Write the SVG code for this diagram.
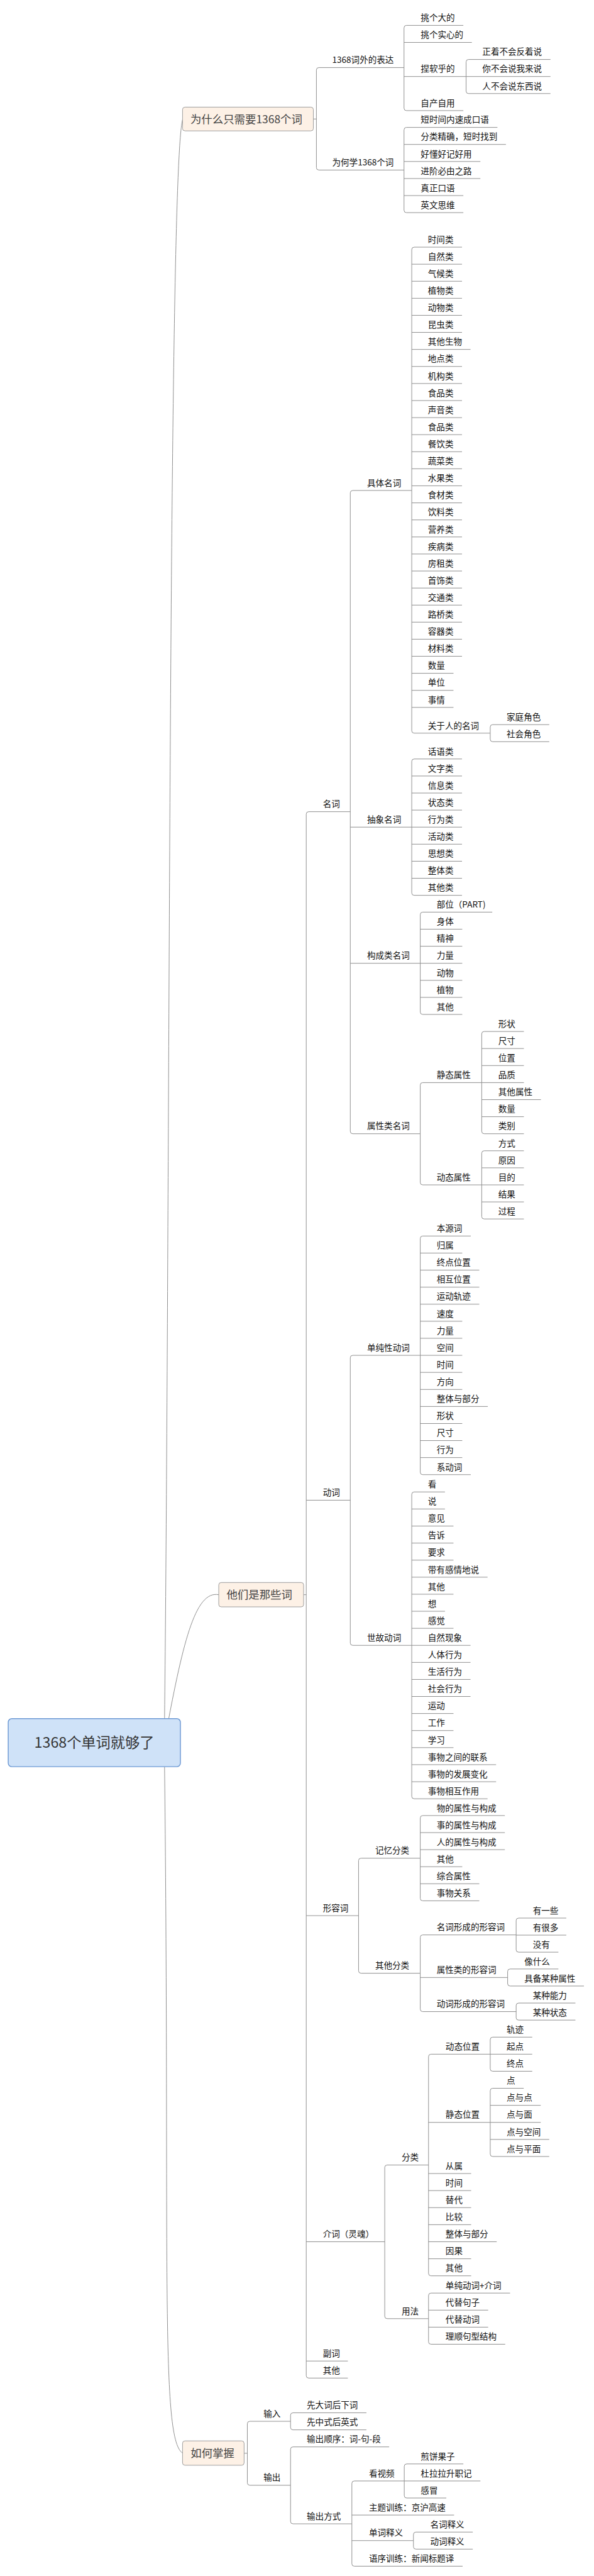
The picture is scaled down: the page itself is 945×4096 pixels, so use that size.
<svg xmlns="http://www.w3.org/2000/svg" width="945" height="4096" viewBox="0 0 945 4096">
<style>
.t{font-family:"Noto Sans CJK SC","Noto Sans",sans-serif;font-size:14px;fill:#111}
.bt{font-family:"Noto Sans CJK SC","Noto Sans",sans-serif;font-size:18px;fill:#444}
.rt{font-family:"Noto Sans CJK SC","Noto Sans",sans-serif;font-size:24px;fill:#333}
.c{fill:none;stroke:#8c8c8c;stroke-width:1}
.box{fill:#fdf1e6;stroke:#9a9a9a;stroke-width:1}
.root{fill:#cfe2f8;stroke:#6e9ad4;stroke-width:1.5}
</style>
<rect width="945" height="4096" fill="#fff"/>
<g transform="scale(0.968)">
<g id="connectors">
<path class="c" d="M270 2862C280 2000 276 290 300 196.5"/>
<path class="c" d="M270 2862C300 2700 320 2612 359.5 2619.5"/>
<path class="c" d="M270 2862C280 3700 262 4005 300 4029.5"/>
<!-- top -->
<path class="c" d="M515 195.5H520M664 111H524Q520 111 520 115V275.3Q520 279.3 524 279.3H664"/>
<path class="c" d="M761.5 41.7H668Q664 41.7 664 45.7V177.7Q664 181.7 668 181.7H761.5M664 69.7H775.5M664 125.7H766"/>
<path class="c" d="M904.7 97.7H770Q766 97.7 766 101.7V149.7Q766 153.7 770 153.7H904.7M766 125.7H904.7"/>
<path class="c" d="M817.5 209.3H668Q664 209.3 664 213.3V345.3Q664 349.3 668 349.3H761.5M664 237.3H831.5M664 265.3H789.5M664 293.3H789.5M664 321.3H761.5"/>
<!-- main level 2 -->
<path class="c" d="M499 2619.5H503.3M575.7 1333.3H507.3Q503.3 1333.3 503.3 1337.3V3902.3Q503.3 3906.3 507.3 3906.3H571.7M503.3 2464.3H575.7M503.3 3146.7H589.3M503.3 3682.3H632.3M503.3 3878.3H571.7"/>
<!-- nouns -->
<path class="c" d="M676.7 805.7H579.7Q575.7 805.7 575.7 809.7V1858.3Q575.7 1862.3 579.7 1862.3H690.7M575.7 1358.7H676.7M575.7 1582.3H690.7"/>
<path class="c" d="M759.3 406H680.7Q676.7 406 676.7 410V1200.3Q676.7 1204.3 680.7 1204.3H805.7M676.7 434H759.3M676.7 462H759.3M676.7 490H759.3M676.7 518H759.3M676.7 546H759.3M676.7 574H773.3M676.7 602H759.3M676.7 630H759.3M676.7 658H759.3M676.7 686H759.3M676.7 714H759.3M676.7 742H759.3M676.7 770H759.3M676.7 798H759.3M676.7 826H759.3M676.7 854H759.3M676.7 882H759.3M676.7 910H759.3M676.7 938H759.3M676.7 966H759.3M676.7 994H759.3M676.7 1022H759.3M676.7 1050H759.3M676.7 1078H759.3M676.7 1106H745.3M676.7 1134H745.3M676.7 1162H745.3"/>
<path class="c" d="M902.7 1190.3H809.7Q805.7 1190.3 805.7 1194.3V1214.3Q805.7 1218.3 809.7 1218.3H902.7"/>
<path class="c" d="M759.3 1246.7H680.7Q676.7 1246.7 676.7 1250.7V1466.7Q676.7 1470.7 680.7 1470.7H759.3M676.7 1274.7H759.3M676.7 1302.7H759.3M676.7 1330.7H759.3M676.7 1358.7H759.3M676.7 1386.7H759.3M676.7 1414.7H759.3M676.7 1442.7H759.3"/>
<path class="c" d="M809 1498.3H694.7Q690.7 1498.3 690.7 1502.3V1662.3Q690.7 1666.3 694.7 1666.3H759.7M690.7 1526.3H759.7M690.7 1554.3H759.7M690.7 1582.3H759.7M690.7 1610.3H759.7M690.7 1638.3H759.7"/>
<path class="c" d="M791.7 1778.3H694.7Q690.7 1778.3 690.7 1782.3V1942.3Q690.7 1946.3 694.7 1946.3H791.7"/>
<path class="c" d="M861 1694.3H795.7Q791.7 1694.3 791.7 1698.3V1858.3Q791.7 1862.3 795.7 1862.3H861M791.7 1722.3H861M791.7 1750.3H861M791.7 1778.3H861M791.7 1806.3H889M791.7 1834.3H861"/>
<path class="c" d="M861 1890.3H795.7Q791.7 1890.3 791.7 1894.3V1998.3Q791.7 2002.3 795.7 2002.3H861M791.7 1918.3H861M791.7 1946.3H861M791.7 1974.3H861"/>
<!-- verbs -->
<path class="c" d="M690.7 2226.3H579.7Q575.7 2226.3 575.7 2230.3V2698.7Q575.7 2702.7 579.7 2702.7H676.7"/>
<path class="c" d="M773.7 2030.3H694.7Q690.7 2030.3 690.7 2034.3V2418.3Q690.7 2422.3 694.7 2422.3H773.7M690.7 2058.3H759.7M690.7 2086.3H787.7M690.7 2114.3H787.7M690.7 2142.3H787.7M690.7 2170.3H759.7M690.7 2198.3H759.7M690.7 2226.3H759.7M690.7 2254.3H759.7M690.7 2282.3H759.7M690.7 2310.3H801.7M690.7 2338.3H759.7M690.7 2366.3H759.7M690.7 2394.3H759.7"/>
<path class="c" d="M731.3 2450.7H680.7Q676.7 2450.7 676.7 2454.7V2950.7Q676.7 2954.7 680.7 2954.7H801.3M676.7 2478.7H731.3M676.7 2506.7H745.3M676.7 2534.7H745.3M676.7 2562.7H745.3M676.7 2590.7H801.3M676.7 2618.7H745.3M676.7 2646.7H731.3M676.7 2674.7H745.3M676.7 2702.7H773.3M676.7 2730.7H773.3M676.7 2758.7H773.3M676.7 2786.7H773.3M676.7 2814.7H745.3M676.7 2842.7H745.3M676.7 2870.7H745.3M676.7 2898.7H815.3M676.7 2926.7H815.3"/>
<!-- adjectives -->
<path class="c" d="M690.7 3052.3H593.3Q589.3 3052.3 589.3 3056.3V3237.3Q589.3 3241.3 593.3 3241.3H690.7"/>
<path class="c" d="M829.7 2982.3H694.7Q690.7 2982.3 690.7 2986.3V3118.3Q690.7 3122.3 694.7 3122.3H787.7M690.7 3010.3H829.7M690.7 3038.3H829.7M690.7 3066.3H759.7M690.7 3094.3H787.7"/>
<path class="c" d="M848.3 3178.3H694.7Q690.7 3178.3 690.7 3182.3V3300.3Q690.7 3304.3 694.7 3304.3H848.3M690.7 3248.3H834.3"/>
<path class="c" d="M930.7 3150.7H852.3Q848.3 3150.7 848.3 3154.7V3202.7Q848.3 3206.7 852.3 3206.7H917.7M848.3 3178.7H930.7"/>
<path class="c" d="M917.7 3234.3H838.3Q834.3 3234.3 834.3 3238.3V3258.3Q834.3 3262.3 838.3 3262.3H959.7"/>
<path class="c" d="M945.7 3290.3H852.3Q848.3 3290.3 848.3 3294.3V3314.3Q848.3 3318.3 852.3 3318.3H945.7"/>
<!-- prepositions -->
<path class="c" d="M704.3 3556.3H636.3Q632.3 3556.3 632.3 3560.3V3804.7Q632.3 3808.7 636.3 3808.7H704.3"/>
<path class="c" d="M805.7 3374.3H708.3Q704.3 3374.3 704.3 3378.3V3734.3Q704.3 3738.3 708.3 3738.3H774.3M704.3 3486.3H805.7M704.3 3570.3H774.3M704.3 3598.3H774.3M704.3 3626.3H774.3M704.3 3654.3H774.3M704.3 3682.3H816.3M704.3 3710.3H774.3"/>
<path class="c" d="M874.7 3346.3H809.7Q805.7 3346.3 805.7 3350.3V3398.3Q805.7 3402.3 809.7 3402.3H874.7M805.7 3374.3H874.7"/>
<path class="c" d="M860.7 3430.3H809.7Q805.7 3430.3 805.7 3434.3V3538.3Q805.7 3542.3 809.7 3542.3H902.7M805.7 3458.3H888.7M805.7 3486.3H888.7M805.7 3514.3H902.7"/>
<path class="c" d="M838.3 3766.7H708.3Q704.3 3766.7 704.3 3770.7V3846.7Q704.3 3850.7 708.3 3850.7H830.3M704.3 3794.7H802.3M704.3 3822.7H802.3"/>
<!-- how to master -->
<path class="c" d="M401.2 4029.8H406.5M477.5 3977.3H410.5Q406.5 3977.3 406.5 3981.3V4078.3Q406.5 4082.3 410.5 4082.3H477.5"/>
<path class="c" d="M602.2 3963.3H481.5Q477.5 3963.3 477.5 3967.3V3987.3Q477.5 3991.3 481.5 3991.3H602.2"/>
<path class="c" d="M639.6 4019.3H481.5Q477.5 4019.3 477.5 4023.3V4141.7Q477.5 4145.7 481.5 4145.7H578.3"/>
<path class="c" d="M664.4 4075.3H582.3Q578.3 4075.3 578.3 4079.3V4211.3Q578.3 4215.3 582.3 4215.3H760.3M578.3 4131.3H746.3M578.3 4173.3H679.5"/>
<path class="c" d="M761.5 4047.3H668.4Q664.4 4047.3 664.4 4051.3V4099.3Q664.4 4103.3 668.4 4103.3H733.5M664.4 4075.3H789.5"/>
<path class="c" d="M777 4159.3H683.5Q679.5 4159.3 679.5 4163.3V4183.3Q679.5 4187.3 683.5 4187.3H777"/>
</g>
<g id="root"><rect class="root" x="13.5" y="2823" width="283" height="79" rx="6"/><text class="rt" x="155" y="2871" text-anchor="middle">1368个单词就够了</text></g>
<g id="why"><rect class="box" x="300" y="176" width="215" height="39" rx="4"/><text class="bt" x="313" y="202">为什么只需要1368个词</text></g>
<g id="which"><rect class="box" x="359.5" y="2599.5" width="139.5" height="40" rx="4"/><text class="bt" x="372.4" y="2626">他们是那些词</text></g>
<g id="how"><rect class="box" x="300" y="4009.5" width="101.2" height="40" rx="4"/><text class="bt" x="313.3" y="4036">如何掌握</text></g>
<g id="w1"><text class="t" x="546" y="103.5">1368词外的表达</text></g>
<g id="w2"><text class="t" x="546" y="271.8">为何学1368个词</text></g>
<g id="w1a"><text class="t" x="691.5" y="34.2">挑个大的</text></g>
<g id="w1b"><text class="t" x="691.5" y="62.2">挑个实心的</text></g>
<g id="w1c"><text class="t" x="691.5" y="118.2">捏软乎的</text></g>
<g id="w1d"><text class="t" x="691.5" y="174.2">自产自用</text></g>
<g id="w1c1"><text class="t" x="792.7" y="90.2">正着不会反着说</text></g>
<g id="w1c2"><text class="t" x="792.7" y="118.2">你不会说我来说</text></g>
<g id="w1c3"><text class="t" x="792.7" y="146.2">人不会说东西说</text></g>
<g id="w2a"><text class="t" x="691.5" y="201.8">短时间内速成口语</text></g>
<g id="w2b"><text class="t" x="691.5" y="229.8">分类精确，短时找到</text></g>
<g id="w2c"><text class="t" x="691.5" y="257.8">好懂好记好用</text></g>
<g id="w2d"><text class="t" x="691.5" y="285.8">进阶必由之路</text></g>
<g id="w2e"><text class="t" x="691.5" y="313.8">真正口语</text></g>
<g id="w2f"><text class="t" x="691.5" y="341.8">英文思维</text></g>
<g id="noun"><text class="t" x="530.7" y="1325.8">名词</text></g>
<g id="verb"><text class="t" x="530.7" y="2456.8">动词</text></g>
<g id="adj"><text class="t" x="530.7" y="3139.2">形容词</text></g>
<g id="prep"><text class="t" x="530.7" y="3674.8">介词（灵魂）</text></g>
<g id="adv"><text class="t" x="530.7" y="3870.8">副词</text></g>
<g id="other"><text class="t" x="530.7" y="3898.8">其他</text></g>
<g id="n1"><text class="t" x="603.3" y="798.2">具体名词</text></g>
<g id="n2"><text class="t" x="603.3" y="1351.2">抽象名词</text></g>
<g id="n3"><text class="t" x="603.3" y="1574.8">构成类名词</text></g>
<g id="n4"><text class="t" x="603.3" y="1854.8">属性类名词</text></g>
<g id="n1-leaves">
<g id="n1-01"><text class="t" x="703.3" y="398.5">时间类</text></g>
<g id="n1-02"><text class="t" x="703.3" y="426.5">自然类</text></g>
<g id="n1-03"><text class="t" x="703.3" y="454.5">气候类</text></g>
<g id="n1-04"><text class="t" x="703.3" y="482.5">植物类</text></g>
<g id="n1-05"><text class="t" x="703.3" y="510.5">动物类</text></g>
<g id="n1-06"><text class="t" x="703.3" y="538.5">昆虫类</text></g>
<g id="n1-07"><text class="t" x="703.3" y="566.5">其他生物</text></g>
<g id="n1-08"><text class="t" x="703.3" y="594.5">地点类</text></g>
<g id="n1-09"><text class="t" x="703.3" y="622.5">机构类</text></g>
<g id="n1-10"><text class="t" x="703.3" y="650.5">食品类</text></g>
<g id="n1-11"><text class="t" x="703.3" y="678.5">声音类</text></g>
<g id="n1-12"><text class="t" x="703.3" y="706.5">食品类</text></g>
<g id="n1-13"><text class="t" x="703.3" y="734.5">餐饮类</text></g>
<g id="n1-14"><text class="t" x="703.3" y="762.5">蔬菜类</text></g>
<g id="n1-15"><text class="t" x="703.3" y="790.5">水果类</text></g>
<g id="n1-16"><text class="t" x="703.3" y="818.5">食材类</text></g>
<g id="n1-17"><text class="t" x="703.3" y="846.5">饮料类</text></g>
<g id="n1-18"><text class="t" x="703.3" y="874.5">营养类</text></g>
<g id="n1-19"><text class="t" x="703.3" y="902.5">疾病类</text></g>
<g id="n1-20"><text class="t" x="703.3" y="930.5">房租类</text></g>
<g id="n1-21"><text class="t" x="703.3" y="958.5">首饰类</text></g>
<g id="n1-22"><text class="t" x="703.3" y="986.5">交通类</text></g>
<g id="n1-23"><text class="t" x="703.3" y="1014.5">路桥类</text></g>
<g id="n1-24"><text class="t" x="703.3" y="1042.5">容器类</text></g>
<g id="n1-25"><text class="t" x="703.3" y="1070.5">材料类</text></g>
<g id="n1-26"><text class="t" x="703.3" y="1098.5">数量</text></g>
<g id="n1-27"><text class="t" x="703.3" y="1126.5">单位</text></g>
<g id="n1-28"><text class="t" x="703.3" y="1154.5">事情</text></g>
<g id="n1-29"><text class="t" x="703.3" y="1196.8">关于人的名词</text></g>
<g id="n1-29a"><text class="t" x="832.7" y="1182.8">家庭角色</text></g>
<g id="n1-29b"><text class="t" x="832.7" y="1210.8">社会角色</text></g>
</g>
<g id="n2-leaves">
<g id="n2-1"><text class="t" x="703.3" y="1239.2">话语类</text></g>
<g id="n2-2"><text class="t" x="703.3" y="1267.2">文字类</text></g>
<g id="n2-3"><text class="t" x="703.3" y="1295.2">信息类</text></g>
<g id="n2-4"><text class="t" x="703.3" y="1323.2">状态类</text></g>
<g id="n2-5"><text class="t" x="703.3" y="1351.2">行为类</text></g>
<g id="n2-6"><text class="t" x="703.3" y="1379.2">活动类</text></g>
<g id="n2-7"><text class="t" x="703.3" y="1407.2">思想类</text></g>
<g id="n2-8"><text class="t" x="703.3" y="1435.2">整体类</text></g>
<g id="n2-9"><text class="t" x="703.3" y="1463.2">其他类</text></g>
</g>
<g id="n3-leaves">
<g id="n3-1"><text class="t" x="717.7" y="1490.8">部位（PART)</text></g>
<g id="n3-2"><text class="t" x="717.7" y="1518.8">身体</text></g>
<g id="n3-3"><text class="t" x="717.7" y="1546.8">精神</text></g>
<g id="n3-4"><text class="t" x="717.7" y="1574.8">力量</text></g>
<g id="n3-5"><text class="t" x="717.7" y="1602.8">动物</text></g>
<g id="n3-6"><text class="t" x="717.7" y="1630.8">植物</text></g>
<g id="n3-7"><text class="t" x="717.7" y="1658.8">其他</text></g>
</g>
<g id="n4-s"><text class="t" x="717.7" y="1770.8">静态属性</text></g>
<g id="n4-d"><text class="t" x="717.7" y="1938.8">动态属性</text></g>
<g id="n4-leaves">
<g id="n4s1"><text class="t" x="819" y="1686.8">形状</text></g>
<g id="n4s2"><text class="t" x="819" y="1714.8">尺寸</text></g>
<g id="n4s3"><text class="t" x="819" y="1742.8">位置</text></g>
<g id="n4s4"><text class="t" x="819" y="1770.8">品质</text></g>
<g id="n4s5"><text class="t" x="819" y="1798.8">其他属性</text></g>
<g id="n4s6"><text class="t" x="819" y="1826.8">数量</text></g>
<g id="n4s7"><text class="t" x="819" y="1854.8">类别</text></g>
<g id="n4d1"><text class="t" x="819" y="1882.8">方式</text></g>
<g id="n4d2"><text class="t" x="819" y="1910.8">原因</text></g>
<g id="n4d3"><text class="t" x="819" y="1938.8">目的</text></g>
<g id="n4d4"><text class="t" x="819" y="1966.8">结果</text></g>
<g id="n4d5"><text class="t" x="819" y="1994.8">过程</text></g>
</g>
<g id="v1"><text class="t" x="603.3" y="2218.8">单纯性动词</text></g>
<g id="v2"><text class="t" x="603.3" y="2695.2">世故动词</text></g>
<g id="v1-leaves">
<g id="v1-01"><text class="t" x="717.7" y="2022.8">本源词</text></g>
<g id="v1-02"><text class="t" x="717.7" y="2050.8">归属</text></g>
<g id="v1-03"><text class="t" x="717.7" y="2078.8">终点位置</text></g>
<g id="v1-04"><text class="t" x="717.7" y="2106.8">相互位置</text></g>
<g id="v1-05"><text class="t" x="717.7" y="2134.8">运动轨迹</text></g>
<g id="v1-06"><text class="t" x="717.7" y="2162.8">速度</text></g>
<g id="v1-07"><text class="t" x="717.7" y="2190.8">力量</text></g>
<g id="v1-08"><text class="t" x="717.7" y="2218.8">空间</text></g>
<g id="v1-09"><text class="t" x="717.7" y="2246.8">时间</text></g>
<g id="v1-10"><text class="t" x="717.7" y="2274.8">方向</text></g>
<g id="v1-11"><text class="t" x="717.7" y="2302.8">整体与部分</text></g>
<g id="v1-12"><text class="t" x="717.7" y="2330.8">形状</text></g>
<g id="v1-13"><text class="t" x="717.7" y="2358.8">尺寸</text></g>
<g id="v1-14"><text class="t" x="717.7" y="2386.8">行为</text></g>
<g id="v1-15"><text class="t" x="717.7" y="2414.8">系动词</text></g>
</g>
<g id="v2-leaves">
<g id="v2-01"><text class="t" x="703.3" y="2443.2">看</text></g>
<g id="v2-02"><text class="t" x="703.3" y="2471.2">说</text></g>
<g id="v2-03"><text class="t" x="703.3" y="2499.2">意见</text></g>
<g id="v2-04"><text class="t" x="703.3" y="2527.2">告诉</text></g>
<g id="v2-05"><text class="t" x="703.3" y="2555.2">要求</text></g>
<g id="v2-06"><text class="t" x="703.3" y="2583.2">带有感情地说</text></g>
<g id="v2-07"><text class="t" x="703.3" y="2611.2">其他</text></g>
<g id="v2-08"><text class="t" x="703.3" y="2639.2">想</text></g>
<g id="v2-09"><text class="t" x="703.3" y="2667.2">感觉</text></g>
<g id="v2-10"><text class="t" x="703.3" y="2695.2">自然现象</text></g>
<g id="v2-11"><text class="t" x="703.3" y="2723.2">人体行为</text></g>
<g id="v2-12"><text class="t" x="703.3" y="2751.2">生活行为</text></g>
<g id="v2-13"><text class="t" x="703.3" y="2779.2">社会行为</text></g>
<g id="v2-14"><text class="t" x="703.3" y="2807.2">运动</text></g>
<g id="v2-15"><text class="t" x="703.3" y="2835.2">工作</text></g>
<g id="v2-16"><text class="t" x="703.3" y="2863.2">学习</text></g>
<g id="v2-17"><text class="t" x="703.3" y="2891.2">事物之间的联系</text></g>
<g id="v2-18"><text class="t" x="703.3" y="2919.2">事物的发展变化</text></g>
<g id="v2-19"><text class="t" x="703.3" y="2947.2">事物相互作用</text></g>
</g>
<g id="a1"><text class="t" x="616.7" y="3044.8">记忆分类</text></g>
<g id="a2"><text class="t" x="616.7" y="3233.8">其他分类</text></g>
<g id="a1-leaves">
<g id="a1-1"><text class="t" x="717.7" y="2974.8">物的属性与构成</text></g>
<g id="a1-2"><text class="t" x="717.7" y="3002.8">事的属性与构成</text></g>
<g id="a1-3"><text class="t" x="717.7" y="3030.8">人的属性与构成</text></g>
<g id="a1-4"><text class="t" x="717.7" y="3058.8">其他</text></g>
<g id="a1-5"><text class="t" x="717.7" y="3086.8">综合属性</text></g>
<g id="a1-6"><text class="t" x="717.7" y="3114.8">事物关系</text></g>
</g>
<g id="a2-1"><text class="t" x="717.7" y="3170.8">名词形成的形容词</text></g>
<g id="a2-2"><text class="t" x="717.7" y="3240.8">属性类的形容词</text></g>
<g id="a2-3"><text class="t" x="717.7" y="3296.8">动词形成的形容词</text></g>
<g id="a2-1a"><text class="t" x="875.7" y="3143.2">有一些</text></g>
<g id="a2-1b"><text class="t" x="875.7" y="3171.2">有很多</text></g>
<g id="a2-1c"><text class="t" x="875.7" y="3199.2">没有</text></g>
<g id="a2-2a"><text class="t" x="861.7" y="3226.8">像什么</text></g>
<g id="a2-2b"><text class="t" x="861.7" y="3254.8">具备某种属性</text></g>
<g id="a2-3a"><text class="t" x="875.7" y="3282.8">某种能力</text></g>
<g id="a2-3b"><text class="t" x="875.7" y="3310.8">某种状态</text></g>
<g id="p1"><text class="t" x="660" y="3548.8">分类</text></g>
<g id="p2"><text class="t" x="660" y="3801.2">用法</text></g>
<g id="p1-1"><text class="t" x="732.3" y="3366.8">动态位置</text></g>
<g id="p1-2"><text class="t" x="732.3" y="3478.8">静态位置</text></g>
<g id="p1-3"><text class="t" x="732.3" y="3562.8">从属</text></g>
<g id="p1-4"><text class="t" x="732.3" y="3590.8">时间</text></g>
<g id="p1-5"><text class="t" x="732.3" y="3618.8">替代</text></g>
<g id="p1-6"><text class="t" x="732.3" y="3646.8">比较</text></g>
<g id="p1-7"><text class="t" x="732.3" y="3674.8">整体与部分</text></g>
<g id="p1-8"><text class="t" x="732.3" y="3702.8">因果</text></g>
<g id="p1-9"><text class="t" x="732.3" y="3730.8">其他</text></g>
<g id="p1-1a"><text class="t" x="832.7" y="3338.8">轨迹</text></g>
<g id="p1-1b"><text class="t" x="832.7" y="3366.8">起点</text></g>
<g id="p1-1c"><text class="t" x="832.7" y="3394.8">终点</text></g>
<g id="p1-2a"><text class="t" x="832.7" y="3422.8">点</text></g>
<g id="p1-2b"><text class="t" x="832.7" y="3450.8">点与点</text></g>
<g id="p1-2c"><text class="t" x="832.7" y="3478.8">点与面</text></g>
<g id="p1-2d"><text class="t" x="832.7" y="3506.8">点与空间</text></g>
<g id="p1-2e"><text class="t" x="832.7" y="3534.8">点与平面</text></g>
<g id="p2-1"><text class="t" x="732.3" y="3759.2">单纯动词+介词</text></g>
<g id="p2-2"><text class="t" x="732.3" y="3787.2">代替句子</text></g>
<g id="p2-3"><text class="t" x="732.3" y="3815.2">代替动词</text></g>
<g id="p2-4"><text class="t" x="732.3" y="3843.2">理顺句型结构</text></g>
<g id="h1"><text class="t" x="433.1" y="3969.8">输入</text></g>
<g id="h2"><text class="t" x="433.1" y="4074.8">输出</text></g>
<g id="h1a"><text class="t" x="504.2" y="3955.8">先大词后下词</text></g>
<g id="h1b"><text class="t" x="504.2" y="3983.8">先中式后英式</text></g>
<g id="h2a"><text class="t" x="504.2" y="4011.8">输出顺序：词-句-段</text></g>
<g id="h2b"><text class="t" x="504.2" y="4138.2">输出方式</text></g>
<g id="h2b1"><text class="t" x="606.3" y="4067.8">看视频</text></g>
<g id="h2b2"><text class="t" x="606.3" y="4123.8">主题训练：京沪高速</text></g>
<g id="h2b3"><text class="t" x="606.3" y="4165.8">单词释义</text></g>
<g id="h2b4"><text class="t" x="606.3" y="4207.8">语序训练：新闻标题译</text></g>
<g id="h2b1a"><text class="t" x="691.5" y="4039.8">煎饼果子</text></g>
<g id="h2b1b"><text class="t" x="691.5" y="4067.8">杜拉拉升职记</text></g>
<g id="h2b1c"><text class="t" x="691.5" y="4095.8">感冒</text></g>
<g id="h2b3a"><text class="t" x="707" y="4151.8">名词释义</text></g>
<g id="h2b3b"><text class="t" x="707" y="4179.8">动词释义</text></g>
</g>
</svg>
